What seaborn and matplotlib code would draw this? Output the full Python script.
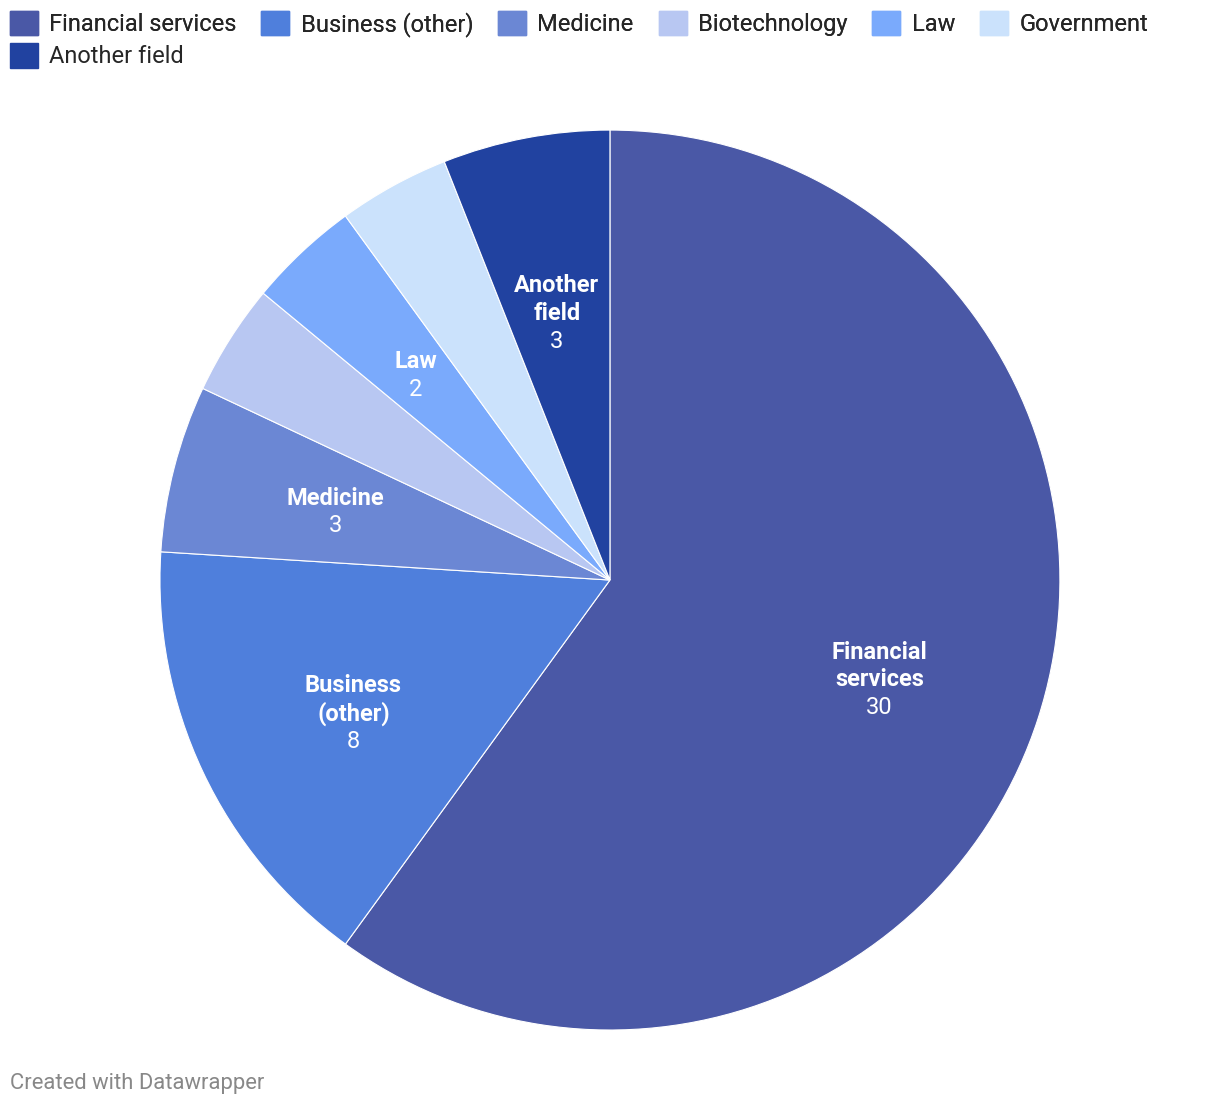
import numpy as np
import matplotlib
matplotlib.use('Agg')
import matplotlib.pyplot as plt
import seaborn as sns

# data
fields = ['Financial services', 'Business (other)', 'Medicine', 'Biotechnology',
          'Law', 'Government', 'Another field']
counts = [30, 8, 3, 2, 2, 2, 3]
colors = ['#4a58a6', '#4f7fdc', '#6b87d4', '#b8c7f2', '#7aaafc', '#cbe2fc', '#2142a0']
# in-slice label text (None = no label)
slice_labels = ['Financial\nservices', 'Business\n(other)', 'Medicine', None, 'Law', None, 'Another\nfield']

sns.set_theme(style='white')
plt.rcParams['font.family'] = ['Roboto', 'DejaVu Sans']

fig = plt.figure(figsize=(12.2, 11.06), dpi=100)
ax = fig.add_axes([0.1311, 0.0687, 0.7377, 0.8137])

wedges, _ = ax.pie(counts, colors=colors, startangle=90, counterclock=False,
                   radius=1, wedgeprops=dict(edgecolor='white', linewidth=0.8))
ax.set_xlim(-1, 1)
ax.set_ylim(-1, 1)
ax.set_aspect('equal')
ax.axis('off')

# labels inside slices
lab_fs = 17
step = 0.0622  # one text line in data units (~28px)
for w, lab, val in zip(wedges, slice_labels, counts):
    if lab is None:
        continue
    mid = np.deg2rad((w.theta1 + w.theta2) / 2)
    x, y = 0.63 * np.cos(mid), 0.63 * np.sin(mid)
    nlines = lab.count('\n') + 1
    top = y + step * (nlines + 1) / 2 - (0.011 + 0.022 * (nlines - 1))
    ax.text(x, top, lab, ha='center', va='top', color='white', fontsize=lab_fs,
            fontweight='bold', linespacing=1.24)
    ax.text(x, top - step * nlines, str(val), ha='center', va='top', color='white',
            fontsize=lab_fs)

# legend (two rows: first six, then the last one)
handles = [plt.Rectangle((0, 0), 1, 1, color=c) for c in colors]
leg_kw = dict(frameon=False, fontsize=17, handlelength=1.19, handleheight=1.19,
              handletextpad=0.47, borderaxespad=0, borderpad=0)
leg1 = fig.legend(handles[:6], fields[:6], loc='center left', bbox_to_anchor=(0.008, 0.9783),
                  ncol=6, columnspacing=1.06, **leg_kw)
fig.add_artist(leg1)
fig.legend(handles[6:], fields[6:], loc='center left', bbox_to_anchor=(0.008, 0.9494),
           ncol=1, **leg_kw)

fig.text(0.008, 0.0200, 'Created with Datawrapper', color='#888888', fontsize=15.8,
         ha='left', va='center')

fig.savefig('out.png', dpi=100)
